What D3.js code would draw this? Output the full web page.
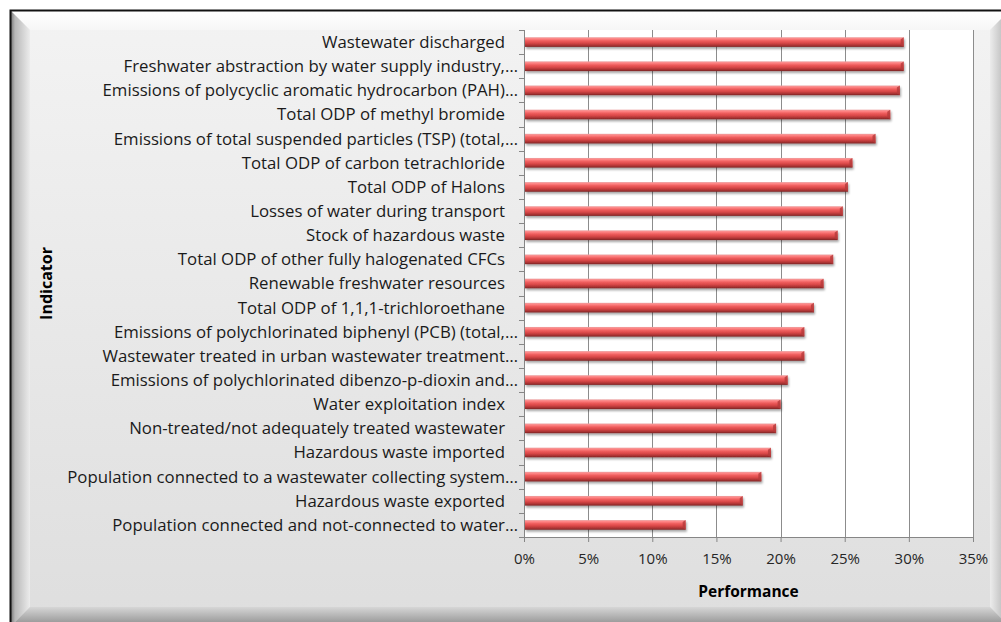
<!DOCTYPE html>
<html>
<head>
<meta charset="utf-8">
<script src="https://cdn.jsdelivr.net/npm/d3@7"></script>
<style>
  body { margin: 0; background: #fff; }
  text { font-family: "Open Sans", Lato, sans-serif; }
</style>
</head>
<body>
<script>
// indicators, top to bottom
const indicators = [
    "Wastewater discharged",
    "Freshwater abstraction by water supply industry,…",
    "Emissions of polycyclic aromatic hydrocarbon (PAH)…",
    "Total ODP of methyl bromide",
    "Emissions of total suspended particles (TSP) (total,…",
    "Total ODP of carbon tetrachloride",
    "Total ODP of Halons",
    "Losses of water during transport",
    "Stock of hazardous waste",
    "Total ODP of other fully halogenated CFCs",
    "Renewable freshwater resources",
    "Total ODP of 1,1,1-trichloroethane",
    "Emissions of polychlorinated biphenyl (PCB) (total,…",
    "Wastewater treated in urban wastewater treatment…",
    "Emissions of polychlorinated dibenzo-p-dioxin and…",
    "Water exploitation index",
    "Non-treated/not adequately treated wastewater",
    "Hazardous waste imported",
    "Population connected to a wastewater collecting system…",
    "Hazardous waste exported",
    "Population connected and not-connected to water…"
];
// performance, in percent
const performance = [
    29.6, 29.6, 29.3, 28.55, 27.4, 25.6, 25.25, 24.85, 24.45, 24.1, 23.35,
    22.6, 21.85, 21.85, 20.55, 20.0, 19.65, 19.25, 18.5, 17.05, 12.6
];
const xTicks = [0, 5, 10, 15, 20, 25, 30, 35];

const data = indicators.map((name, i) => ({name: name, value: performance[i]}));

const canvWidth = 1001, canvHeight = 622;
// plot area in page pixels
const plot = {left: 524, right: 973, top: 30, bottom: 537};

const svg = d3.select("body").append("svg")
    .attr("width", canvWidth)
    .attr("height", canvHeight);

const defs = svg.append("defs");

// chart frame background
const bg = defs.append("linearGradient").attr("id", "bg")
    .attr("x1", 0).attr("y1", 0).attr("x2", 0).attr("y2", 1);
bg.append("stop").attr("offset", "0%").attr("stop-color", "#f3f3f3");
bg.append("stop").attr("offset", "100%").attr("stop-color", "#dedede");

const bevL = defs.append("linearGradient").attr("id", "bevL")
    .attr("x1", 0).attr("y1", 0).attr("x2", 1).attr("y2", 0);
bevL.append("stop").attr("offset", "0%").attr("stop-color", "#6a6a6a");
bevL.append("stop").attr("offset", "25%").attr("stop-color", "#b8b8b8");
bevL.append("stop").attr("offset", "100%").attr("stop-color", "#ececec");

const bevT = defs.append("linearGradient").attr("id", "bevT")
    .attr("x1", 0).attr("y1", 0).attr("x2", 0).attr("y2", 1);
bevT.append("stop").attr("offset", "0%").attr("stop-color", "#ffffff");
bevT.append("stop").attr("offset", "100%").attr("stop-color", "#f6f6f6");

const bevR = defs.append("linearGradient").attr("id", "bevR")
    .attr("x1", 0).attr("y1", 0).attr("x2", 1).attr("y2", 0);
bevR.append("stop").attr("offset", "0%").attr("stop-color", "#ececec");
bevR.append("stop").attr("offset", "100%").attr("stop-color", "#a8a8a8");

const bevB = defs.append("linearGradient").attr("id", "bevB")
    .attr("x1", 0).attr("y1", 0).attr("x2", 0).attr("y2", 1);
bevB.append("stop").attr("offset", "0%").attr("stop-color", "#d6d6d6");
bevB.append("stop").attr("offset", "100%").attr("stop-color", "#8a8a8a");

// bar shading, cylinder-ish
const barGrad = defs.append("linearGradient").attr("id", "barGrad")
    .attr("x1", 0).attr("y1", 0).attr("x2", 0).attr("y2", 1);
[["0%", "#eba0a0"], ["15%", "#ff8686"], ["38%", "#ee5c5c"], ["60%", "#d94848"],
 ["85%", "#a83232"], ["100%", "#7a2525"]].forEach(s =>
    barGrad.append("stop").attr("offset", s[0]).attr("stop-color", s[1]));

const shadow = defs.append("filter").attr("id", "shadow")
    .attr("x", "-5%").attr("y", "-40%").attr("width", "110%").attr("height", "200%");
shadow.append("feDropShadow").attr("dx", 1).attr("dy", 2)
    .attr("stdDeviation", 1).attr("flood-color", "#000").attr("flood-opacity", 0.35);

// frame: outer border + bevel
const fx = 10, fy = 10, fw = 1000, fh = 617, bv = 20;
svg.append("rect").attr("x", fx).attr("y", fy).attr("width", fw).attr("height", fh)
    .attr("fill", "url(#bg)");
svg.append("polygon").attr("fill", "url(#bevT)")
    .attr("points", [[fx, fy], [fx + fw, fy], [fx + fw - bv, fy + bv], [fx + bv, fy + bv]].join(" "));
svg.append("polygon").attr("fill", "url(#bevL)")
    .attr("points", [[fx, fy], [fx + bv, fy + bv], [fx + bv, fy + fh - bv], [fx, fy + fh]].join(" "));
svg.append("polygon").attr("fill", "url(#bevR)")
    .attr("points", [[fx + fw, fy], [fx + fw, fy + fh], [fx + fw - bv, fy + fh - bv], [fx + fw - bv, fy + bv]].join(" "));
svg.append("polygon").attr("fill", "url(#bevB)")
    .attr("points", [[fx, fy + fh], [fx + bv, fy + fh - bv], [fx + fw - bv, fy + fh - bv], [fx + fw, fy + fh]].join(" "));
svg.append("rect").attr("x", fx + 0.5).attr("y", fy + 0.5).attr("width", fw).attr("height", fh)
    .attr("fill", "none").attr("stroke", "#111").attr("stroke-width", 2);

// plot area
svg.append("rect")
    .attr("x", plot.left).attr("y", plot.top)
    .attr("width", plot.right - plot.left).attr("height", plot.bottom - plot.top)
    .attr("fill", "#fff");

const x = d3.scaleLinear().domain([0, 35]).range([plot.left, plot.right]);
const y = d3.scaleBand().domain(indicators).range([plot.top, plot.bottom]).padding(0);

// vertical gridlines
svg.append("g").selectAll("line")
    .data(xTicks.slice(1))
    .enter().append("line")
    .attr("x1", d => Math.round(x(d)) + 0.5).attr("x2", d => Math.round(x(d)) + 0.5)
    .attr("y1", plot.top).attr("y2", plot.bottom)
    .attr("stroke", "#8c8c8c").attr("stroke-width", 1);

// x axis
const xAxis = svg.append("g")
    .attr("transform", `translate(0,${plot.bottom})`)
    .call(d3.axisBottom(x).tickValues(xTicks).tickFormat(d => d + "%").tickSize(5).tickPadding(11).tickSizeOuter(0));
xAxis.select(".domain").attr("stroke", "#868686");
xAxis.selectAll(".tick line").attr("stroke", "#868686");
xAxis.selectAll(".tick text")
    .attr("font-family", "'Open Sans', Lato, sans-serif")
    .attr("font-size", "15px").attr("fill", "#262626");

// y axis: line + ticks at category boundaries
const yAxis = svg.append("g").attr("transform", `translate(${plot.left},0)`);
yAxis.append("line")
    .attr("x1", 0.5).attr("x2", 0.5).attr("y1", plot.top).attr("y2", plot.bottom + 4)
    .attr("stroke", "#868686");
yAxis.selectAll(".btick")
    .data(d3.range(indicators.length + 1))
    .enter().append("line")
    .attr("class", "btick")
    .attr("x1", -5).attr("x2", 0)
    .attr("y1", i => Math.round(plot.top + i * y.step()) + 0.5)
    .attr("y2", i => Math.round(plot.top + i * y.step()) + 0.5)
    .attr("stroke", "#868686");

// category labels
yAxis.selectAll(".lbl")
    .data(indicators)
    .enter().append("text")
    .attr("class", "lbl")
    .attr("x", d => d.endsWith("…") ? -6 : -19)
    .attr("y", d => y(d) + y.bandwidth() / 2)
    .attr("dy", "0.35em")
    .attr("text-anchor", "end")
    .attr("font-size", "16.8px")
    .attr("fill", "#1a1a1a")
    .text(d => d);

// bars
const barH = y.bandwidth() * 0.4;
const bars = svg.append("g").attr("filter", "url(#shadow)");
bars.selectAll("rect")
    .data(data)
    .enter().append("rect")
    .attr("class", "bar")
    .attr("x", x(0) + 1)
    .attr("y", d => y(d.name) + (y.bandwidth() - barH) / 2)
    .attr("width", d => x(d.value) - x(0) - 1)
    .attr("height", barH)
    .attr("fill", "url(#barGrad)");
// bevelled right end
bars.selectAll("path")
    .data(data)
    .enter().append("path")
    .attr("d", d => {
        const x1 = x(d.value), y0 = y(d.name) + (y.bandwidth() - barH) / 2;
        return `M${x1 - 3},${y0 + 2} L${x1},${y0} L${x1},${y0 + barH} L${x1 - 3},${y0 + barH - 2} Z`;
    })
    .attr("fill", "#b53b3b").attr("opacity", 0.8);

// axis titles
svg.append("text")
    .attr("transform", `translate(52,${(plot.top + plot.bottom) / 2}) rotate(-90)`)
    .attr("text-anchor", "middle")
    .attr("font-size", "16px").attr("font-weight", "bold").attr("fill", "#000")
    .text("Indicator");

svg.append("text")
    .attr("x", (plot.left + plot.right) / 2)
    .attr("y", 597)
    .attr("text-anchor", "middle")
    .attr("font-size", "15.5px").attr("font-weight", "bold").attr("fill", "#000")
    .text("Performance");
</script>
</body>
</html>
